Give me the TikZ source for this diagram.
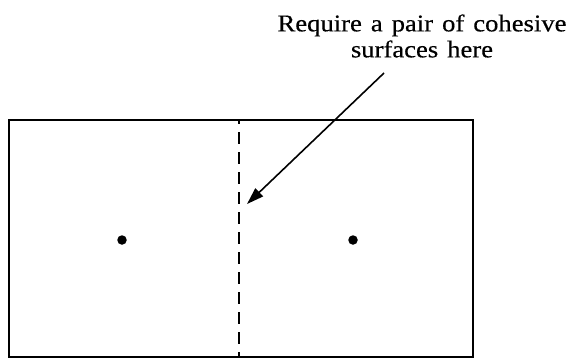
\documentclass[tikz,border=0pt]{standalone}
\usepackage{fontspec}
\setmainfont{Liberation Serif}[FakeStretch=1.11, WordSpace=1.35, FakeBold=0.4]
\usetikzlibrary{arrows.meta, positioning}
\tikzstyle{panel}   = [rectangle, draw=black, line width=2.8pt, inner sep=0pt,
                       minimum width=464pt, minimum height=237pt]
\tikzstyle{divider} = [line width=2.8pt, dash pattern=on 12pt off 8pt, dash phase=8pt]
\tikzstyle{spot}    = [circle, fill=black, inner sep=0pt, minimum size=9.5pt]
\tikzstyle{note}    = [align=center, font=\fontsize{24}{26}\selectfont, inner sep=0pt]
\tikzstyle{arrow}   = [line width=1.6pt, -{Triangle[length=17pt, width=11pt]}]

\begin{document}
\begin{tikzpicture}[x=1pt, y=-1pt]
    \useasboundingbox (0,0) rectangle (572,360);

    % -- Body with the cut ---------------------------------------------------
    \node (body)  [panel] at (241,238.5) {};
    \coordinate (cuttop) at (239,120);
    \coordinate (cutbot) at (239,357);
    \draw [divider] (cuttop) -- (cutbot);

    % -- Centre points -------------------------------------------------------
    \node (left)  [spot] at (122,240) {};
    \node (right) [spot] at (353,240) {};

    % -- Annotation ----------------------------------------------------------
    \node (label) [note] at (422,36) {Require a pair of cohesive\\surfaces here};
    \coordinate (from) at (384,73);
    \coordinate (to)   at (247,204);
    \draw [arrow] (from) -- (to);

\end{tikzpicture}
\end{document}
